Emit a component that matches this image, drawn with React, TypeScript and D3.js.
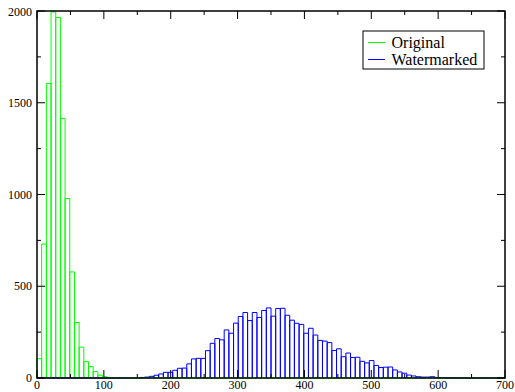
import React from 'react';
import * as d3 from 'd3';

// histogram bins: 100 bins of width 7 over 0..700
const binWidth = 7;
const binCount = 100;

const originalCounts = [
  105, 730, 1605, 1995, 1965, 1415, 978, 578, 302, 168,
  89, 62, 35, 16, 7, 3, 1,
];

const watermarkedCounts = [
  0, 0, 0, 0, 0, 0, 0, 0, 0, 0,
  0, 0, 0, 0, 0, 0, 0, 0, 0, 0,
  0, 1, 3, 5, 9, 15, 22, 31, 31, 42,
  53, 54, 77, 104, 107, 107, 149, 189, 215, 208,
  262, 244, 299, 335, 357, 313, 357, 330, 368, 382,
  337, 379, 380, 342, 315, 298, 292, 244, 271, 234,
  205, 201, 193, 150, 159, 116, 136, 112, 113, 91,
  82, 95, 68, 57, 59, 60, 44, 33, 26, 16,
  11, 7, 5, 5, 7, 2, 2, 1, 1, 1,
];

const xTicks = [0, 100, 200, 300, 400, 500, 600, 700];
const xMinorTicks = [50, 150, 250, 350, 450, 550, 650];
const yTicks = [0, 500, 1000, 1500, 2000];
const yMinorTicks = [250, 750, 1250, 1750];

const legendItems = [
  { label: 'Original', color: '#00ff00' },
  { label: 'Watermarked', color: '#0000ff' },
];

const W = 515;
const H = 392;
const margin = { left: 37, right: 10, top: 11, bottom: 14 };
const font = '"Liberation Serif", "DejaVu Serif", serif';

const App: React.FC = () => {
  const x = d3.scaleLinear().domain([0, 700]).range([margin.left, W - margin.right]);
  const y = d3.scaleLinear().domain([0, 2000]).range([H - margin.bottom, margin.top]);

  const barPath = (counts: number[]) => {
    const p = d3.path();
    for (let i = 0; i < binCount; i++) {
      const v = counts[i] || 0;
      const x0 = x(i * binWidth);
      const x1 = x((i + 1) * binWidth);
      p.moveTo(x0, y(0));
      p.lineTo(x0, y(v));
      p.lineTo(x1, y(v));
      p.lineTo(x1, y(0));
    }
    return p.toString();
  };

  const [x0, x1] = x.range();
  const [yb, yt] = y.range();
  const major = 8;
  const minor = 4;

  return (
    <svg width={W} height={H} style={{ position: 'absolute', left: 0, top: 0, background: '#fff' }}>
      <rect x={0} y={0} width={W} height={H} fill="#fff" />
      <path d={barPath(watermarkedCounts)} fill="none" stroke="#0000ff" strokeWidth={1} />
      <path d={barPath(originalCounts)} fill="none" stroke="#00ff00" strokeWidth={1} />

      {/* frame */}
      <rect x={x0} y={yt} width={x1 - x0} height={yb - yt} fill="none" stroke="#000" strokeWidth={1.5} />

      {/* x ticks, bottom and top, pointing inward */}
      {xTicks.map(t => (
        <g key={'xt' + t}>
          <line x1={x(t)} x2={x(t)} y1={yb} y2={yb - major} stroke="#000" />
          <line x1={x(t)} x2={x(t)} y1={yt} y2={yt + major} stroke="#000" />
          <text x={t === 700 ? W - 1 : x(t)} y={H - 3.5} fontSize={12} fontFamily={font}
            textAnchor={t === 700 ? 'end' : 'middle'}>{t}</text>
        </g>
      ))}
      {xMinorTicks.map(t => (
        <g key={'xm' + t}>
          <line x1={x(t)} x2={x(t)} y1={yb} y2={yb - minor} stroke="#000" />
          <line x1={x(t)} x2={x(t)} y1={yt} y2={yt + minor} stroke="#000" />
        </g>
      ))}

      {/* y ticks, left and right */}
      {yTicks.map(t => (
        <g key={'yt' + t}>
          <line x1={x0} x2={x0 + major} y1={y(t)} y2={y(t)} stroke="#000" />
          <line x1={x1} x2={x1 - major} y1={y(t)} y2={y(t)} stroke="#000" />
          <text x={x0 - 5} y={t === 2000 ? y(t) + 1 : y(t)} dy="0.35em" fontSize={12} fontFamily={font} textAnchor="end">{t}</text>
        </g>
      ))}
      {yMinorTicks.map(t => (
        <g key={'ym' + t}>
          <line x1={x0} x2={x0 + minor} y1={y(t)} y2={y(t)} stroke="#000" />
          <line x1={x1} x2={x1 - minor} y1={y(t)} y2={y(t)} stroke="#000" />
        </g>
      ))}

      {/* legend */}
      <g transform="translate(363,31)">
        <rect x={0} y={0} width={121} height={38} fill="#fff" stroke="#000" strokeWidth={1} />
        {legendItems.map((d, i) => (
          <g key={d.label} transform={`translate(0,${11.5 + i * 17})`}>
            <line x1={5} x2={22} y1={0} y2={0} stroke={d.color} strokeWidth={1} />
            <text x={28.5} y={0} dy="0.33em" fontSize={16} fontFamily={font}>{d.label}</text>
          </g>
        ))}
      </g>
    </svg>
  );
};

export default App;
